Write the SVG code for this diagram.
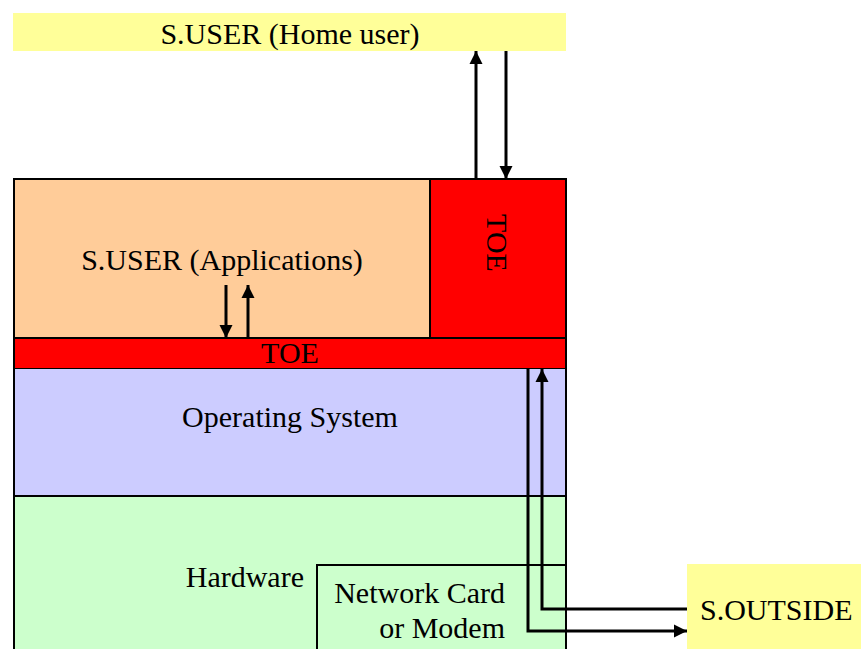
<svg xmlns="http://www.w3.org/2000/svg" width="861" height="649" viewBox="0 0 861 649">
<style>
text{font-family:"Liberation Serif","Times New Roman",serif;font-size:30px;fill:#000}
.c{text-anchor:middle}
.e{text-anchor:end}
.ln{fill:none;stroke:#000;stroke-width:3}
</style>
<defs>
<marker id="ah" viewBox="0 0 13 13" refX="13" refY="6.5" markerWidth="4.4" markerHeight="4.4" orient="auto" markerUnits="strokeWidth"><path d="M0,0 L13,6.5 L0,13 z" fill="#000"/></marker>
</defs>
<g id="home-user"><rect x="13" y="13" width="553" height="38" fill="#ffff99"/><text class="c" x="290" y="44">S.USER (Home user)</text></g>
<g id="hardware"><rect x="14" y="496" width="552" height="160" fill="#ccffcc" stroke="#000" stroke-width="2"/><text class="e" x="304" y="587">Hardware</text></g>
<g id="network-card"><rect x="317" y="565" width="249" height="90" fill="#ccffcc" stroke="#000" stroke-width="2"/><text class="e" x="505" y="603">Network Card</text><text class="e" x="505" y="638">or Modem</text></g>
<g id="os"><rect x="14" y="368" width="552" height="128" fill="#ccccff" stroke="#000" stroke-width="2"/><text class="c" x="290" y="427">Operating System</text></g>
<g id="toe-bar"><rect x="14" y="338" width="552" height="30" fill="#ff0000"/><text class="c" x="290" y="363">TOE</text></g>
<g id="applications"><rect x="14" y="179" width="416" height="159" fill="#ffcc99" stroke="#000" stroke-width="2"/><text class="c" x="222" y="270">S.USER (Applications)</text></g>
<g id="toe-side"><rect x="430" y="179" width="136" height="159" fill="#ff0000" stroke="#000" stroke-width="2"/><text class="c" transform="translate(487,243) rotate(90)" x="0" y="0">TOE</text></g>
<rect x="14" y="179" width="552" height="480" fill="none" stroke="#000" stroke-width="2"/>
<g id="s-outside"><rect x="687" y="564" width="174" height="85" fill="#ffff99"/><text x="700" y="620">S.OUTSIDE</text></g>
<g id="connectors">
<path class="ln" d="M476,179 V51" marker-end="url(#ah)"/>
<path class="ln" d="M506,51 V179" marker-end="url(#ah)"/>
<path class="ln" d="M226,285 V338" marker-end="url(#ah)"/>
<path class="ln" d="M248,338 V285" marker-end="url(#ah)"/>
<path class="ln" d="M687,609 H542 V369" marker-end="url(#ah)"/>
<path class="ln" d="M528,368 V631 H687" marker-end="url(#ah)"/>
</g>
</svg>
